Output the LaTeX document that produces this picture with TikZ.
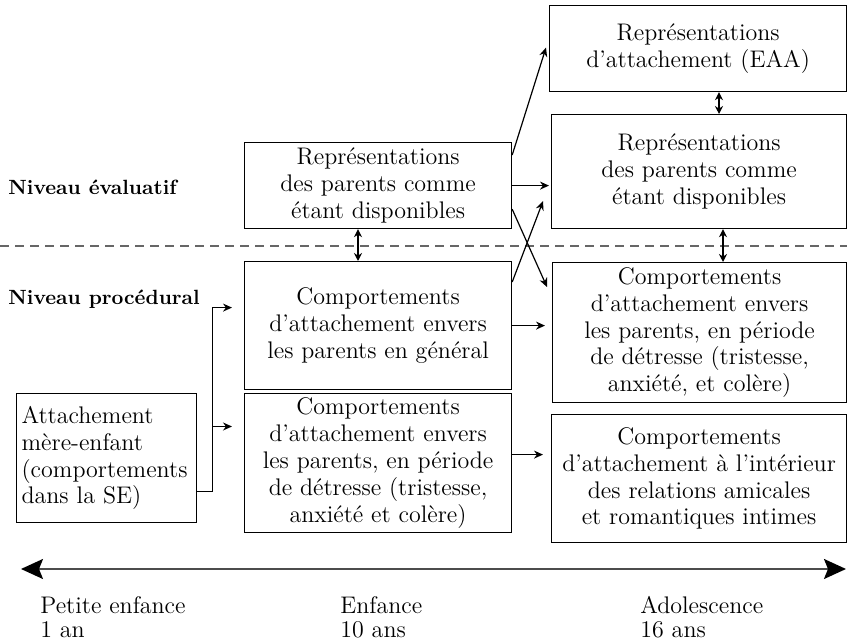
\documentclass[tikz,border=0pt]{standalone}
\usepackage{fontspec}
\usepackage{tikz}
\usetikzlibrary{calc}
\usetikzlibrary{arrows.meta}
\newcommand{\BoxFont}{\fontsize{12}{13.4}\selectfont}
\newcommand{\LevelFont}{\fontsize{10.3}{12}\selectfont\bfseries}
\newcommand{\AgeFont}{\fontsize{12}{12}\selectfont}

\begin{document}
\begin{tikzpicture}[x=0.5pt,y=-0.5pt,
  box/.style={draw,line width=0.6pt,inner sep=0pt,align=center,anchor=north west,font=\BoxFont},
  link/.style={->,line width=0.6pt,>={Stealth[length=4.5pt,width=4pt]}},
  twoway/.style={<->,line width=0.6pt,>={Stealth[length=4pt,width=4pt]}}]
\useasboundingbox (0,0) rectangle (847,640);

\coordinate (TR) at (549,5);
\coordinate (RR) at (551,114);
\coordinate (RP) at (552,262);
\coordinate (RS) at (551,414);
\coordinate (MR) at (244,142);
\coordinate (MP) at (244,261);
\coordinate (MD) at (244,393);
\coordinate (LI) at (16,393);

\node[box,minimum width=148.5pt,minimum height=43pt] (eaa) at (TR) {Représentations\\d’attachement (EAA)};% Top right
\node[box,minimum width=147.5pt,minimum height=57pt] (repRight) at (RR) {Représentations\\des parents comme\\étant disponibles};
\node[box,minimum width=147pt,minimum height=70pt] (procRight) at (RP) {Comportements\\d’attachement envers\\les parents, en période\\de détresse (tristesse,\\anxiété, et colère)};
\node[box,minimum width=147.5pt,minimum height=64pt] (social) at (RS) {Comportements\\d’attachement à l’intérieur\\des relations amicales\\et romantiques intimes};% Bottom right

\node[box,minimum width=133.5pt,minimum height=43pt] (repMid) at (MR) {Représentations\\des parents comme\\étant disponibles};
\node[box,minimum width=133.5pt,minimum height=64pt] (procMid) at (MP) {Comportements\\d’attachement envers\\les parents en général};
\node[box,minimum width=133.5pt,minimum height=69.5pt] (distressMid) at (MD) {Comportements\\d’attachement envers\\les parents, en période\\de détresse (tristesse,\\anxiété et colère)};

\node[box,align=left,text width=85pt,inner xsep=2.5pt,minimum height=64.5pt] (infant) at (LI) {Attachement\\mère-enfant\\(comportements\\dans la SE)};% Left box

\node[font=\LevelFont,anchor=base west,inner sep=0pt] (evalLevel) at (8,195) {Niveau évaluatif};
\node[font=\LevelFont,anchor=base west,inner sep=0pt] (procLevel) at (8,305) {Niveau procédural};

\draw[gray!80!black,line width=0.6pt,dash pattern=on 4.5pt off 3pt] (0,246) -- (847,246);% Level border

\draw[link] ($(repMid.north east)+(0,13)$) -- ($(eaa.west)+(-3,-1)$);
\draw[link] (repMid.east) -- ($(repMid.east -| repRight.west)+(-2,0)$);
\draw[link] ($(repMid.south east)+(0,-20)$) -- ($(procRight.north west)+(-5,25)$);
\draw[link] ($(procMid.north east)+(0,21)$) -- ($(repRight.south west)+(-8,-28)$);
\draw[link] (procMid.east) -- ($(procMid.east -| procRight.west)+(-7,0)$);
\draw[link] ($(distressMid.east)+(0,-8.5)$) -- ($(distressMid.east -| social.west)+(-8,-8.5)$);

\draw[twoway] ($(repMid.south west)+(114,0)$) -- ($(procMid.north west)+(114,0)$);
\draw[twoway] ($(repRight.south west)+(172,0)$) -- ($(procRight.north west)+(171,0)$);
\draw[twoway] ($(eaa.south west)+(170,0)$) -- ($(repRight.north west)+(168,0)$);

\coordinate (Fork) at ($(infant.south east)+(15,-32)$);
\coordinate (TipHigh) at ($(procMid.west)+(-12,-18)$);
\coordinate (TipLow) at ($(distressMid.north west)+(-12,33.5)$);
\draw[link] (infant.south east |- Fork) -- (Fork) |- (TipHigh);
\draw[link] (Fork |- TipLow) -- (TipLow);

% Age axis
\coordinate (AxisL) at (21,569);
\coordinate (AxisR) at (846,569);
\draw[{Stealth[length=11pt,width=10pt,inset=2pt,black]}-{Stealth[length=11pt,width=10pt,inset=2pt,black]},black!70,line width=1pt] (AxisL) -- (AxisR);

\node[font=\AgeFont,align=left,anchor=north west,inner sep=0pt] (infancy) at (40,596) {Petite enfance\\1 an};
\node[font=\AgeFont,align=left,anchor=north west,inner sep=0pt] (childhood) at (340,596) {Enfance\\10 ans};
\node[font=\AgeFont,align=left,anchor=north west,inner sep=0pt] (teens) at (640,596) {Adolescence\\16 ans};
\end{tikzpicture}
\end{document}
